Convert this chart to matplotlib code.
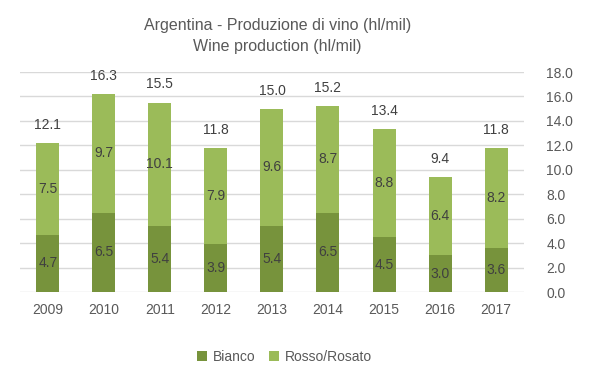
import numpy as np
import matplotlib.pyplot as plt

years = ["2009", "2010", "2011", "2012", "2013", "2014", "2015", "2016", "2017"]
bianco = [4.7, 6.5, 5.4, 3.9, 5.4, 6.5, 4.5, 3.0, 3.6]
rosso = [7.5, 9.7, 10.1, 7.9, 9.6, 8.7, 8.8, 6.4, 8.2]
totale = [12.1, 16.3, 15.5, 11.8, 15.0, 15.2, 13.4, 9.4, 11.8]

plt.rcParams['font.family'] = ['Liberation Sans', 'DejaVu Sans']

c_bianco = "#77933C"
c_rosso = "#9BBB59"
txt = "#595959"

fig = plt.figure(figsize=(5.99, 3.78), dpi=100)
ax = fig.add_axes([0.033, 0.2275, 0.842, 0.582])

x = np.arange(len(years))
w = 0.41
ax.bar(x, bianco, w, color=c_bianco, label="Bianco", zorder=3)
ax.bar(x, rosso, w, bottom=bianco, color=c_rosso, label="Rosso/Rosato", zorder=3)

for i in range(len(years)):
    ax.text(x[i], bianco[i] / 2, f"{bianco[i]:.1f}", ha="center", va="center",
            fontsize=10, color="#404040", zorder=4)
    ax.text(x[i], bianco[i] + rosso[i] / 2, f"{rosso[i]:.1f}", ha="center",
            va="center", fontsize=10, color="#404040", zorder=4)
    ax.annotate(f"{totale[i]:.1f}", (x[i], bianco[i] + rosso[i]),
                xytext=(0, 8), textcoords="offset points", ha="center",
                va="bottom", fontsize=10, color="#404040")

ax.set_xlim(-0.5, len(years) - 0.5)
ax.set_ylim(0, 18)
ax.set_yticks(np.arange(0, 18.1, 2))
ax.set_yticklabels([f"{v:.1f}" for v in np.arange(0, 18.1, 2)])
ax.yaxis.tick_right()
ax.set_xticks(x)
ax.set_xticklabels(years)
ax.tick_params(axis="both", length=0, labelsize=10, colors=txt)
ax.tick_params(axis="y", pad=16)
ax.tick_params(axis="x", pad=8)
ax.grid(axis="y", color="#D9D9D9", linewidth=1, zorder=0)
for s in ax.spines.values():
    s.set_visible(False)

fig.text(0.463, 0.905, "Argentina - Produzione di vino (hl/mil)\nWine production (hl/mil)",
         ha="center", va="center", fontsize=11.5, color=txt, linespacing=1.45)

fig.legend(loc="center", bbox_to_anchor=(0.475, 0.055), ncol=2, frameon=False,
           fontsize=10, handlelength=0.7, handleheight=0.7, handletextpad=0.4,
           columnspacing=1.0, labelcolor=txt)

plt.savefig("out.png", dpi=100)
